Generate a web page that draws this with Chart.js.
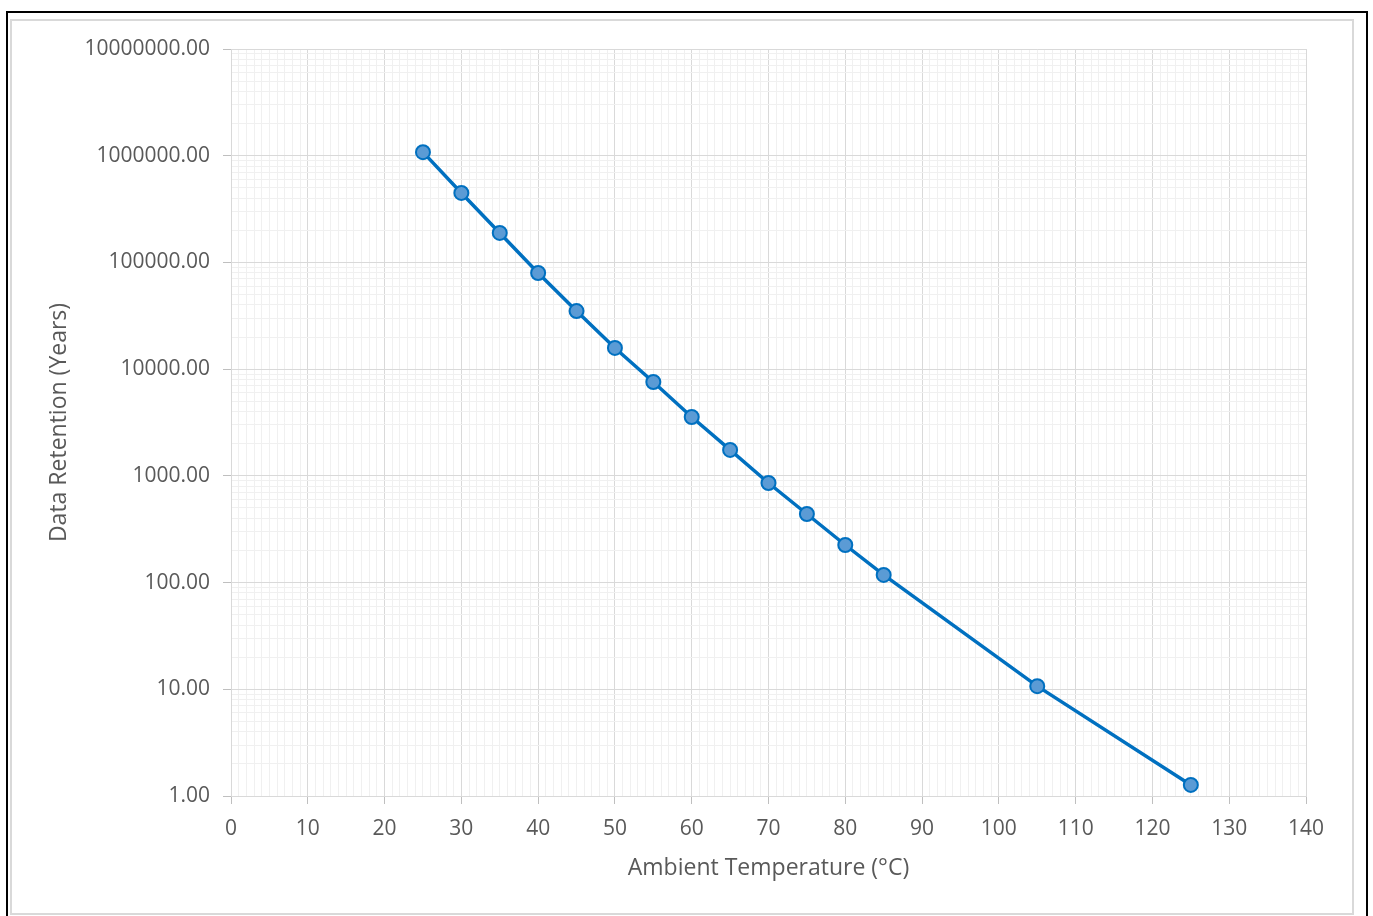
<!DOCTYPE html>
<html>
<head>
<meta charset="utf-8">
<script src="https://cdn.jsdelivr.net/npm/chart.js@4.4.0/dist/chart.umd.js"></script>
<style>
  body { margin: 0; background: #fff; }
  #frame { position: absolute; left: 6px; top: 11px; width: 1362px; height: 910px; border: 2px solid #000; box-sizing: border-box; }
  #inner { position: absolute; left: 10px; top: 19px; width: 1344px; height: 896px; border: 2px solid #d9d9d9; box-sizing: border-box; }
  #wrap { position: absolute; left: 0; top: 0; width: 1373px; height: 916px; }
</style>
</head>
<body>
<div id="frame"></div>
<div id="inner"></div>
<div id="wrap"><canvas id="chart" width="1373" height="916"></canvas></div>
<script>
// Data retention vs ambient temperature
const temps = [25, 30, 35, 40, 45, 50, 55, 60, 65, 70, 75, 80, 85, 105, 125];
const retention = [1080000, 448000, 189000, 79600, 35000, 15800, 7580, 3560, 1750, 857, 439, 225, 118, 10.7, 1.27];
const xTickLabels = [0, 10, 20, 30, 40, 50, 60, 70, 80, 90, 100, 110, 120, 130, 140];
const yTickLabels = [1, 10, 100, 1000, 10000, 100000, 1000000, 10000000];

const textColor = '#595959';
const majorGrid = '#d9d9d9';
const minorGrid = '#f0f0f0';

function isMajorX(v) { return xTickLabels.indexOf(v) !== -1; }
function isMajorY(v) { return yTickLabels.indexOf(v) !== -1; }

new Chart(document.getElementById('chart'), {
    type: 'line',
    data: {
        datasets: [{
            data: temps.map(function(t, i) { return { x: t, y: retention[i] }; }),
            borderColor: '#0070c0',
            borderWidth: 3.5,
            pointRadius: 7,
            pointBackgroundColor: '#5b9bd5',
            pointBorderColor: '#0070c0',
            pointBorderWidth: 2,
            tension: 0
        }]
    },
    options: {
        responsive: false,
        animation: false,
        layout: { padding: { left: 40, top: 49, right: 67, bottom: 20 } },
        plugins: { legend: { display: false }, tooltip: { enabled: false } },
        scales: {
            x: {
                type: 'linear',
                min: 0,
                max: 140,
                afterBuildTicks: function(scale) {
                    const t = [];
                    for (let v = 0; v <= 140; v++) t.push({ value: v });
                    scale.ticks = t;
                },
                afterFit: function(scale) { scale.height = 100; },
                ticks: {
                    autoSkip: false,
                    maxRotation: 0,
                    padding: 12,
                    color: textColor,
                    font: { family: 'Open Sans', size: 21 },
                    callback: function(v) { return isMajorX(v) ? String(v) : ''; }
                },
                grid: {
                    color: function(ctx) { return ctx.tick && isMajorX(ctx.tick.value) ? majorGrid : minorGrid; },
                    tickColor: function(ctx) { return ctx.tick && isMajorX(ctx.tick.value) ? '#bfbfbf' : 'rgba(0,0,0,0)'; },
                    tickLength: 8
                },
                border: { color: majorGrid },
                title: {
                    display: true,
                    text: 'Ambient Temperature (°C)',
                    color: textColor,
                    font: { family: 'Open Sans', size: 23 },
                    padding: { top: 0, bottom: 14 }
                }
            },
            y: {
                type: 'logarithmic',
                min: 1,
                max: 10000000,
                afterBuildTicks: function(scale) {
                    const t = [];
                    yTickLabels.forEach(function(d) {
                        for (let k = 1; k <= 9; k++) {
                            const v = k * d;
                            if (v <= 10000000) t.push({ value: v });
                        }
                    });
                    scale.ticks = t;
                },
                afterFit: function(scale) { scale.width = 191; },
                ticks: {
                    autoSkip: false,
                    padding: 13,
                    color: textColor,
                    font: { family: 'Open Sans', size: 21 },
                    callback: function(v) { return isMajorY(v) ? v.toFixed(2) : ''; }
                },
                grid: {
                    color: function(ctx) { return ctx.tick && isMajorY(ctx.tick.value) ? majorGrid : minorGrid; },
                    tickColor: function(ctx) { return ctx.tick && isMajorY(ctx.tick.value) ? '#bfbfbf' : 'rgba(0,0,0,0)'; },
                    tickLength: 8
                },
                border: { color: majorGrid },
                title: {
                    display: true,
                    text: 'Data Retention (Years)',
                    color: textColor,
                    font: { family: 'Open Sans', size: 23 },
                    padding: { top: 6, bottom: 0 }
                }
            }
        }
    }
});
</script>
</body>
</html>
